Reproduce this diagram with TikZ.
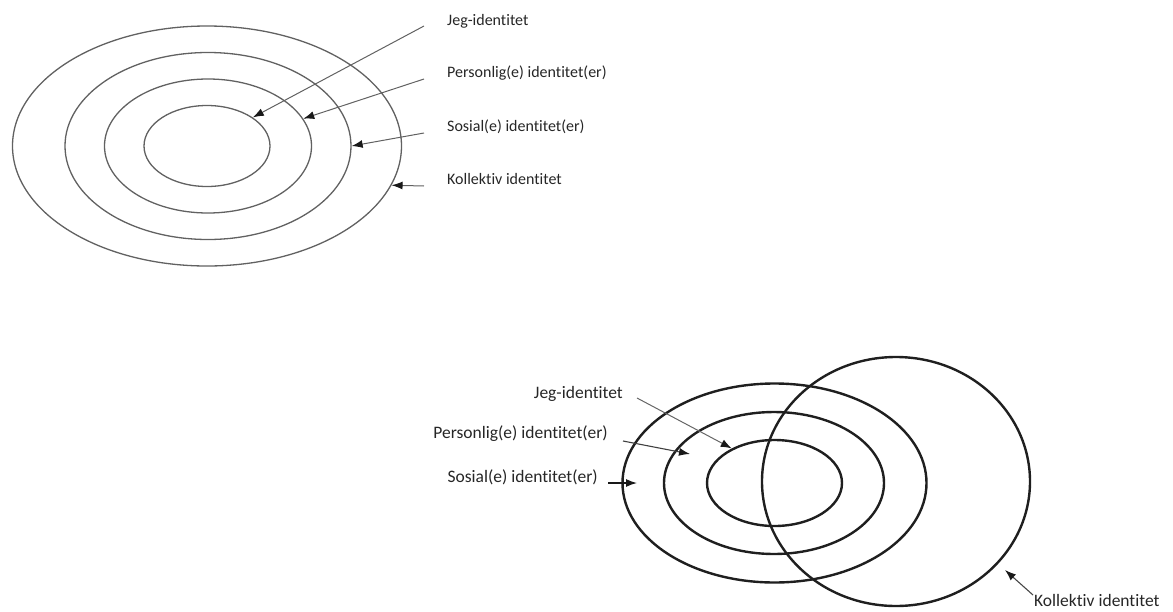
\documentclass[tikz,border=0pt]{standalone}
\usepackage{fontspec}
\setmainfont{Carlito}[Ligatures=NoCommon]
\usetikzlibrary{arrows.meta}
\usetikzlibrary{shapes.geometric}
\tikzset{ring/.style={draw,ellipse,inner sep=0pt}}
\tikzset{idtext/.style={inner sep=0pt,text=black!85}}

\begin{document}
\begin{tikzpicture}[x=1pt,y=-1pt,
      >={Latex[length=11pt,width=8pt,color=black!90]},
      toparrow/.style={->,draw=black!62,line width=1pt},
      toppen/.style={draw=black!62,line width=1.3pt},
      botpen/.style={draw=black!88,line width=2.4pt}]

  \useasboundingbox (0,0) rectangle (1173,611);

  % upper figure: nested rings
  \node[ring,toppen,minimum width=389pt,minimum height=240pt]
    (KollektivRing) at (207,146) {};
  \node[ring,toppen,minimum width=286pt,minimum height=187pt]
    (SosialRing) at (208,146) {};
  \node[ring,toppen,minimum width=207pt,minimum height=134pt]
    (PersonligRing) at (208,146) {};
  \node[ring,toppen,minimum width=126pt,minimum height=81pt]
    (JegRing) at (207,146) {};

  \node[idtext,anchor=base west,font=\fontsize{16}{19}\selectfont]
    (JegText) at (447,25) {Jeg-identitet};
  \node[idtext,anchor=base west,font=\fontsize{16}{19}\selectfont]
    (PersonligText) at (447,77) {Personlig(e) identitet(er)};
  \node[idtext,anchor=base west,font=\fontsize{16}{19}\selectfont]
    (SosialText) at (447,131) {Sosial(e) identitet(er)};
  \node[idtext,anchor=base west,font=\fontsize{16}{19}\selectfont]
    (KollektivText) at (447,184) {Kollektiv identitet};

  \path
    ([xshift=-23pt,yshift=-1pt]JegText.base west) edge[toparrow] (JegRing.32)
    ([xshift=-23pt,yshift=-2pt]PersonligText.base west) edge[toparrow] (PersonligRing.16)
    ([xshift=-23pt,yshift=-2pt]SosialText.base west) edge[toparrow] (SosialRing.0)
    ([xshift=-23pt,yshift=-2pt]KollektivText.base west) edge[toparrow] (KollektivRing.-12);

  % lower figure: rings cut by the collective circle
  \node[ring,botpen,minimum width=304pt,minimum height=199pt]
    (SosialRingB) at (774.5,483) {};
  \node[ring,botpen,minimum width=220pt,minimum height=142pt]
    (PersonligRingB) at (774,483) {};
  \node[ring,botpen,minimum width=135pt,minimum height=86pt]
    (JegRingB) at (774.5,483) {};
  \node[ring,botpen,minimum width=268pt,minimum height=249pt]
    (KollektivRingB) at (896,481.5) {};

  \node[idtext,anchor=base east,font=\fontsize{17.5}{21}\selectfont]
    (JegTextB) at (623,398) {Jeg-identitet};
  \node[idtext,anchor=base east,font=\fontsize{17.5}{21}\selectfont]
    (PersonligTextB) at (608,438) {Personlig(e) identitet(er)};
  \node[idtext,anchor=base east,font=\fontsize{17.5}{21}\selectfont]
    (SosialTextB) at (598,482) {Sosial(e) identitet(er)};
  \node[idtext,anchor=base west,font=\fontsize{17.5}{21}\selectfont]
    (KollektivTextB) at (1034,606) {Kollektiv identitet};

  \coordinate (PersonligTip) at (690,454);
  \coordinate (SosialTip) at (637,483);
  \coordinate (KollektivTip) at (1005,570);

  \path
    ([xshift=14pt]JegTextB.base east) edge[->,draw=black!60,line width=1pt] (JegRingB.141)
    ([xshift=15pt,yshift=-3pt]PersonligTextB.base east) edge[->,draw=black!75,line width=1.1pt] (PersonligTip)
    ([xshift=10pt,yshift=-1pt]SosialTextB.base east) edge[->,draw=black!90,line width=1.3pt] (SosialTip)
    ([xshift=-1pt,yshift=11pt]KollektivTextB.base west) edge[->,draw=black!72,line width=1.1pt] (KollektivTip);

\end{tikzpicture}
\end{document}
